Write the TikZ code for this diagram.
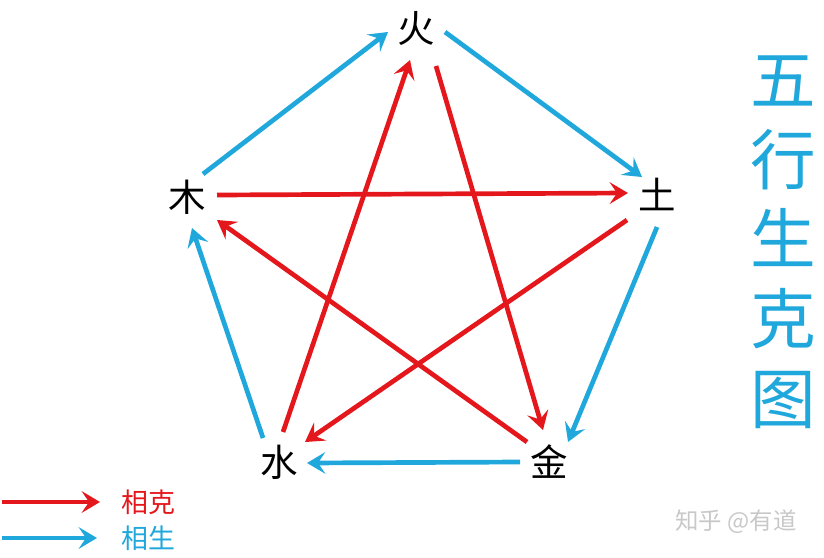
\documentclass[tikz,border=0pt]{standalone}
\usepackage{fontspec}
\setmainfont{Noto Sans CJK SC}
\usetikzlibrary{arrows.meta}

\definecolor{kered}{RGB}{228,24,28}
\definecolor{shengblue}{RGB}{32,168,220}
\definecolor{markgray}{RGB}{200,200,200}

\tikzset{
  element/.style={font=\fontsize{32}{32}\selectfont, inner sep=2pt},
  kearrow/.style={draw=kered, line width=4pt, -{Stealth[length=5.5mm,width=6.5mm,inset=2.2mm]}},
  shengarrow/.style={draw=shengblue, line width=4pt, -{Stealth[length=5.5mm,width=6.5mm,inset=2.2mm]}}
}

\begin{document}
\begin{tikzpicture}[x=0.03cm, y=-0.03cm]
  % Fix the page to the reference size
  \useasboundingbox (0,0) rectangle (824,557);

  % The five elements
  \node[element] (huo)  at (416,28)  {火};
  \node[element] (mu)   at (187,197) {木};
  \node[element] (tu)   at (657,194) {土};
  \node[element] (shui) at (279,462) {水};
  \node[element] (jin)  at (549,462) {金};

  % Generating cycle (blue)
  \draw[shengarrow] ([shift={(16,-23)}]mu.center)  -- ([shift={(-28,4)}]huo.center);
  \draw[shengarrow] ([shift={(29,4)}]huo.center)   -- ([shift={(-15,-17)}]tu.center);
  \draw[shengarrow] ([shift={(0,33)}]tu.center)    -- ([shift={(19,-20)}]jin.center);
  \draw[shengarrow] ([shift={(-29,0)}]jin.center)  -- ([shift={(28,1)}]shui.center);
  \draw[shengarrow] ([shift={(-16,-24)}]shui.center) -- ([shift={(5,31)}]mu.center);

  % Overcoming cycle (red)
  \draw[kearrow] ([shift={(30,-2)}]mu.center)   -- ([shift={(-29,-1)}]tu.center);
  \draw[kearrow] ([shift={(-30,26)}]tu.center)  -- ([shift={(26,-20)}]shui.center);
  \draw[kearrow] ([shift={(4,-30)}]shui.center) -- ([shift={(-6,32)}]huo.center);
  \draw[kearrow] ([shift={(20,38)}]huo.center)  -- ([shift={(-6,-32)}]jin.center);
  \draw[kearrow] ([shift={(-22,-20)}]jin.center) -- ([shift={(30,23)}]mu.center);

  % Title
  \node[text=shengblue, font=\fontsize{56}{68}\selectfont, align=center] (title) at (783,242)
    {五\\行\\生\\克\\图};

  % Legend
  \coordinate (kestart) at (2,502);
  \coordinate (shengstart) at (2,538);
  \node[text=kered, font=\fontsize{23}{23}\selectfont] (kelabel) at (148,502) {相克};
  \node[text=shengblue, font=\fontsize{23}{23}\selectfont] (shenglabel) at (148,538) {相生};
  \draw[kearrow] (kestart) -- ++(98,0);
  \draw[shengarrow] (shengstart) -- ++(95,0);

  % Watermark
  \node[text=markgray, font=\fontsize{20}{20}\selectfont] (mark) at (736,522) {知乎 @有道};
\end{tikzpicture}
\end{document}
